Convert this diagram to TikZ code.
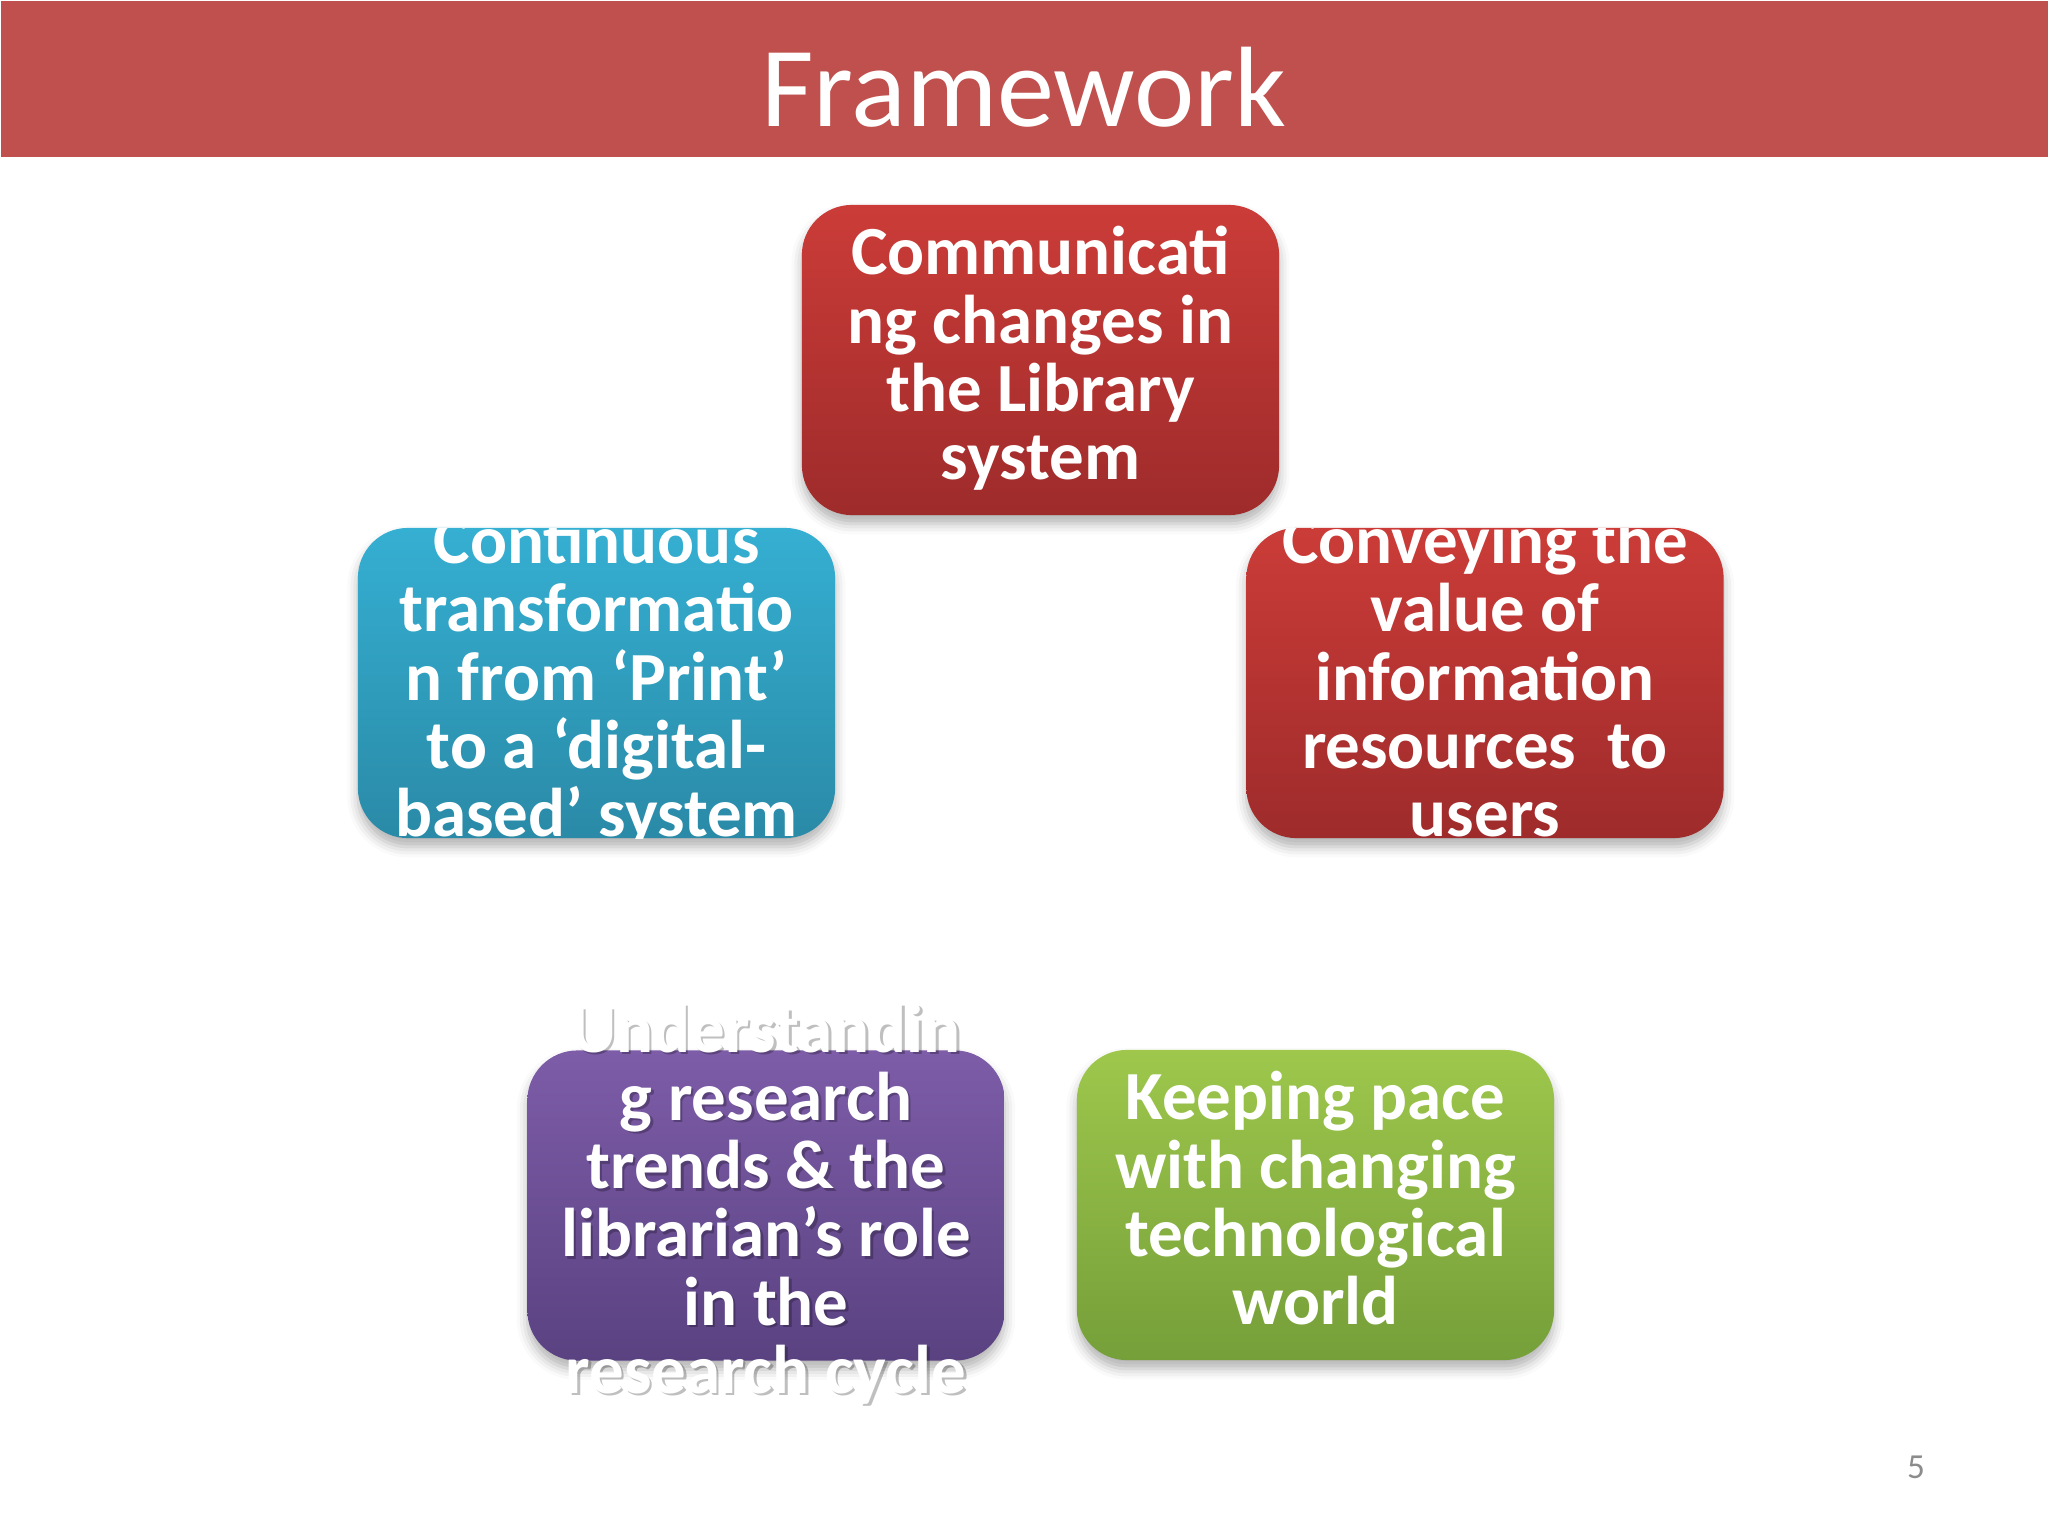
\documentclass[tikz,border=0pt]{standalone}
\usepackage{fontspec}
\setmainfont{Carlito}
\usetikzlibrary{shadows.blur}
\definecolor{titleRed}{HTML}{C0504D}
\definecolor{redTop}{HTML}{CB3C38}
\definecolor{redBottom}{HTML}{9E2B2B}
\definecolor{blueTop}{HTML}{35AFD2}
\definecolor{blueBottom}{HTML}{2A8AA7}
\definecolor{purpleTop}{HTML}{7D5CA8}
\definecolor{purpleBottom}{HTML}{5A4281}
\definecolor{greenTop}{HTML}{9EC74C}
\definecolor{greenBottom}{HTML}{759F39}
\newcommand{\boxFont}[0]{\fontsize{19.6}{19.4}\selectfont\bfseries}
\newcommand{\researchText}[0]{Understandin\\g research\\trends \& the\\librarian’s role\\in the\\research cycle}

\begin{document}
\begin{tikzpicture}[x=0.01cm, y=-0.01cm]
  \tikzset{
    frame box/.style={rounded corners=0.5cm, minimum width=4.77cm, minimum height=3.1cm, inner sep=0pt,
      blur shadow={shadow xshift=0pt, shadow yshift=-2.5pt, shadow blur radius=3pt, shadow opacity=30}},
    frame text/.style={align=center, text=white, inner sep=0pt, anchor=base, font=\boxFont},
    red box/.style={frame box, top color=redTop, bottom color=redBottom},
    blue box/.style={frame box, top color=blueTop, bottom color=blueBottom},
    purple box/.style={frame box, top color=purpleTop, bottom color=purpleBottom},
    green box/.style={frame box, top color=greenTop, bottom color=greenBottom}
  }
  \useasboundingbox (0,0) rectangle (2048,1536);
  \node[fill=titleRed, anchor=north west, minimum width=20.48cm, minimum height=1.56cm, inner sep=0pt] (bar) at (0,0) {};
  \node[anchor=base, text=white, inner sep=0pt, font=\fontsize{32.5}{32.5}\selectfont] (title) at (1024,126) {Framework};

  \node[red box] (comm) at (1040.5,360) {};
  \node[blue box] (cont) at (596.5,683) {};
  \node[red box] (conv) at (1485,683) {};
  \node[purple box] (research) at (766,1205.5) {};
  \node[green box] (keep) at (1315.5,1205) {};

  \node[frame text] (comm-text) at (1040.5,479.5) {Communicati\\ng changes in\\the Library\\system};
  \begin{scope}
    \clip (300,528) rectangle (1800,838);
    \node[frame text] (cont-text) at (596.5,836.6) {Continuous\\transformatio\\n from ‘Print’\\to a ‘digital-\\based’ system};
    \node[frame text] (conv-text) at (1485,836.6) {Conveying the\\value of\\information\\resources \ to\\users};
  \end{scope}
  \node[frame text, text=black, opacity=0.25] (research-shadow) at (768.5,1395.75) {\researchText};
  \node[frame text] (research-text) at (766,1393.25) {\researchText};
  \node[frame text] (keep-text) at (1315.5,1324.5) {Keeping pace\\with changing\\technological\\world};

  \node[anchor=base, text=black!45, inner sep=0pt, font=\fontsize{10}{10}\selectfont] (page) at (1916,1478) {5};
\end{tikzpicture}
\end{document}
